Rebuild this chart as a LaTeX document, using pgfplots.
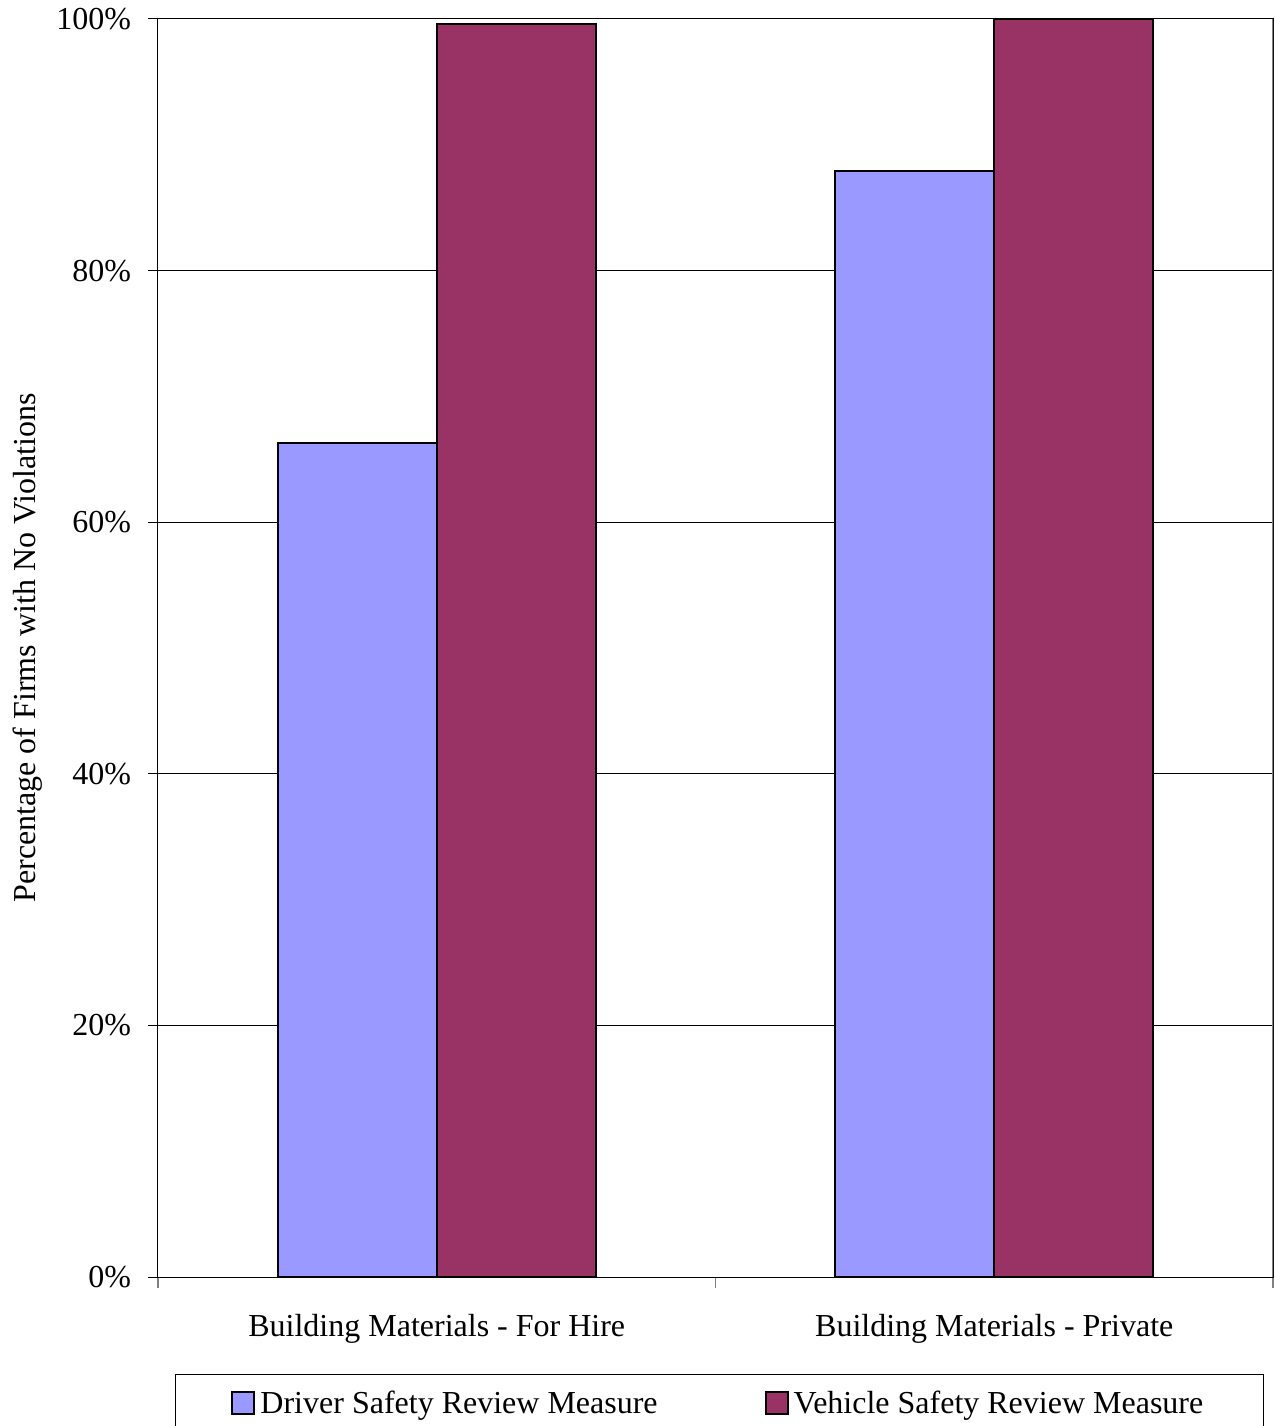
\documentclass[border=0pt]{standalone}
\usepackage{fontspec}
\setmainfont{Liberation Serif}
\usepackage{pgfplots}
\pgfplotsset{compat=1.18}
\definecolor{drv}{HTML}{9999FF}
\definecolor{veh}{HTML}{993366}
\newcommand\fs{\fontsize{16}{19.2}\selectfont}
\begin{document}
\begin{tikzpicture}[font=\fs]
\path[use as bounding box] (-79pt,-74.5pt) rectangle (558.5pt,638.5pt);
\begin{axis}[
  at={(0,0)}, anchor=south west,
  scale only axis, width=557.5pt, height=629pt,
  ybar=0pt, bar width=79.5pt,
  xmin=-0.5, xmax=1.5, ymin=0, ymax=100,
  xtick={0,1},
  xticklabels={Building Materials - For Hire, Building Materials - Private},
  minor xtick={-0.5,0.5,1.5},
  major x tick style={draw=none},
  minor x tick style={gray, line width=0.6pt},
  minor tick length=5.5pt,
  ytick={0,20,40,60,80,100},
  yticklabels={0\%,20\%,40\%,60\%,80\%,100\%},
  major tick length=5pt,
  tick align=outside,
  tick pos=left,
  y tick style={black, line width=0.5pt},
  ymajorgrids, grid style={black, line width=0.5pt},
  axis line style={black, line width=0.5pt},
  xticklabel style={font=\fs, yshift=-10pt},
  yticklabel style={font=\fs, xshift=-5pt},
  ylabel={Percentage of Firms with No Violations},
  every axis y label/.style={at={(axis description cs:-0.1166,0.5)}, rotate=90, anchor=center, font=\fs},
  legend columns=2,
  legend style={at={(rel axis cs:0.01525,-0.0771)}, anchor=north west, draw=black, line width=0.5pt,
    inner xsep=28pt, inner ysep=6pt, font=\fs,
    /tikz/every even column/.append style={column sep=51.5pt}},
  legend image code/.code={\draw[#1, draw=black, line width=1pt] (0pt,-5.5pt) rectangle (11pt,5.5pt);},
]
\addplot[fill=drv, draw=black, line width=1pt] coordinates {(0,66.3) (1,87.9)};
\addplot[fill=veh, draw=black, line width=1pt] coordinates {(0,99.6) (1,100)};
\legend{\hspace{0.5pt}Driver Safety Review Measure, \hspace{0.5pt}Vehicle Safety Review Measure\hspace{-7.5pt}}
\draw[gray, line width=0.8pt] (rel axis cs:1,0) -- (rel axis cs:1,1);
\end{axis}
\end{tikzpicture}
\end{document}
